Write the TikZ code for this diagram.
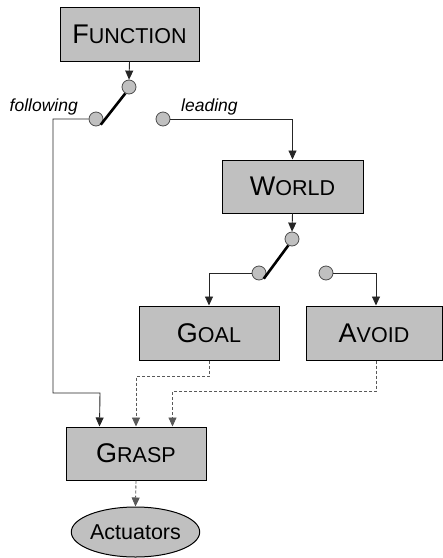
\documentclass[tikz,border=0pt]{standalone}
\usepackage{fontspec}
\setmainfont{Liberation Sans}
\usetikzlibrary{shapes.geometric,arrows.meta,calc}
\definecolor{boxgray}{HTML}{C0C0C0}
\newcommand\capsA[2]{{\fontsize{27}{27}\selectfont #1}{\fontsize{21.5}{21.5}\selectfont #2}}
\tikzset{
  blk/.style={draw=black, line width=1pt, fill=boxgray, inner sep=0pt, minimum height=54pt},
  sw/.style={circle, draw=black!70, line width=0.8pt, fill=boxgray, minimum size=14pt, inner sep=0pt},
  con/.style={draw=black!85, line width=0.9pt},
  arr/.style={con, -{Triangle[length=9pt,width=8pt]}},
  darr/.style={draw=black!65, line width=0.9pt, dash pattern=on 3pt off 2pt, -{Triangle[length=9pt,width=8pt]}},
  lever/.style={line width=2.6pt, black},
  lbl/.style={font=\fontsize{17.5}{17.5}\selectfont\itshape, inner sep=0pt, anchor=base}
}
\begin{document}
\begin{tikzpicture}[x=1pt,y=-1pt]
\useasboundingbox (0,0) rectangle (443,558);
\node[blk, minimum width=139pt] (func) at (129.5,34) {\capsA{F}{UNCTION}};
\node[blk, minimum width=141pt, minimum height=53pt] (world) at (292.5,186.5) {\capsA{W}{ORLD}};
\node[blk, minimum width=140pt] (goal) at (209,333) {\capsA{G}{OAL}};
\node[blk, minimum width=136pt] (avoid) at (374,333) {\capsA{A}{VOID}};
\node[blk, minimum width=140pt, minimum height=53pt] (grasp) at (136,453.5) {\capsA{G}{RASP}};
\node[ellipse, draw=black, line width=1pt, fill=boxgray, minimum width=127pt, minimum height=50pt, inner sep=0pt, font=\fontsize{21.5}{21.5}\selectfont] (act) at (135.5,532) {Actuators};

\node[sw] (s1t) at (129,87) {};
\node[sw] (s1l) at (96,119) {};
\node[sw] (s1r) at (163,119) {};
\node[sw] (s2t) at (292,239) {};
\node[sw] (s2l) at (259,273) {};
\node[sw] (s2r) at (326,273) {};

\node[lbl, anchor=base east] (lf) at (78,111) {following};
\node[lbl, anchor=base west] (ll) at (181,111) {leading};

\coordinate (g1) at ($(grasp.north west)+(34,0)$);
\coordinate (g3) at ($(grasp.north west)+(107,0)$);

\draw[arr] (func.south) -- (s1t.north);
\draw[lever] (s1t.-120) -- (s1l.-50);
\draw[con, -{Triangle[length=9pt,width=8pt]}] (s1l.west) -- (53,119) |- (100,393) -- (g1);
\draw[arr] (s1r.east) -| (world.north);

\draw[arr] (world.south) -- (s2t.north);
\draw[lever] (s2t.-120) -- (s2l.-50);
\draw[arr] (s2l.west) -| (goal.north);
\draw[arr] (s2r.east) -| ($(avoid.north)+(2,0)$);

\draw[darr] (goal.south) -- ++(0,16) -| (grasp.north);
\draw[darr] ($(avoid.south)+(2,0)$) -- ++(0,31) -| (g3);
\draw[darr] (grasp.south) -- (act.north);
\end{tikzpicture}
\end{document}
